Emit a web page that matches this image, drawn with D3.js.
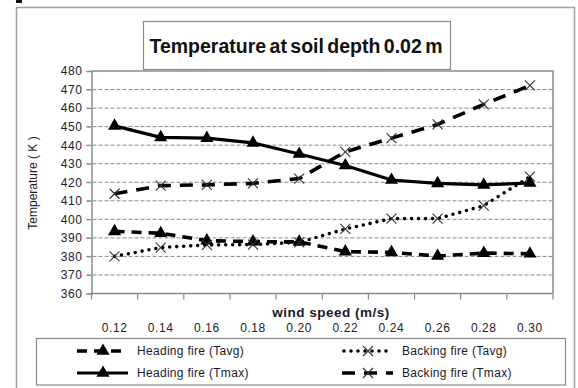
<!DOCTYPE html>
<html>
<head>
<meta charset="utf-8">
<script src="https://cdn.jsdelivr.net/npm/d3@7"></script>
<style>
  body { margin: 0; background: #fff; }
  svg { display: block; font-family: "Liberation Sans", Arial, sans-serif; }
</style>
</head>
<body>
<div class="chart"></div>
<script>
// wind speed categories (m/s)
const windSpeeds = ['0.12', '0.14', '0.16', '0.18', '0.20', '0.22', '0.24', '0.26', '0.28', '0.30'];
const yTicks = [360, 370, 380, 390, 400, 410, 420, 430, 440, 450, 460, 470, 480];

// temperatures (K)
const headingAvg = [393.5, 392.5, 388.5, 388, 387.8, 382.6, 382.2, 380.2, 381.8, 381.4];
const backingAvg = [380, 384.8, 386.2, 386.4, 387.6, 394.8, 400.4, 400.4, 407.4, 423];
const headingMax = [450.4, 444.2, 443.8, 441.2, 435.2, 429, 421.2, 419.4, 418.6, 419.6];
const backingMax = [413.8, 418.2, 418.6, 419.4, 422, 436.4, 443.8, 451.2, 462, 472.2];

const series = [
  { name: 'Heading fire (Tavg)', values: headingAvg, dash: '10,7', width: 3.6, marker: 'tri', cap: 'butt' },
  { name: 'Backing fire (Tavg)', values: backingAvg, dash: '0,7', width: 3.6, marker: 'x', cap: 'round' },
  { name: 'Heading fire (Tmax)', values: headingMax, dash: null, width: 3.2, marker: 'tri', cap: 'butt' },
  { name: 'Backing fire (Tmax)', values: backingMax, dash: '13,9', width: 3.6, marker: 'x', cap: 'butt' }
];

const W = 578, H = 388;
const margin = { top: 71, right: 25, bottom: 94.5, left: 91.5 };
const width = W - margin.left - margin.right;
const height = H - margin.top - margin.bottom;

const txt = '#22222e';

const svg = d3.select('.chart').append('svg').attr('width', W).attr('height', H);

// outer chart frame
svg.append('rect')
  .attr('x', 16.5).attr('y', 7.5).attr('width', 558).attr('height', 390)
  .attr('fill', 'none').attr('stroke', '#a0a0a0').attr('stroke-width', 1.5);
svg.append('rect').attr('x', 16).attr('y', 0).attr('width', 6).attr('height', 3).attr('fill', '#111');

// title box
svg.append('rect')
  .attr('x', 143.5).attr('y', 21.5).attr('width', 307).attr('height', 48)
  .attr('fill', '#fff').attr('stroke', '#8c8c8c').attr('stroke-width', 1.2);
svg.append('text')
  .attr('x', 296).attr('y', 46).attr('dy', '0.35em')
  .attr('text-anchor', 'middle')
  .attr('font-size', 19.5).attr('font-weight', 'bold').attr('fill', '#111')
  .attr('word-spacing', -2)
  .text('Temperature at soil depth 0.02 m');

const x = d3.scaleBand().domain(windSpeeds).range([0, width]);
const y = d3.scaleLinear().domain([360, 480]).range([height, 0]);

const g = svg.append('g').attr('transform', 'translate(' + margin.left + ',' + margin.top + ')');

// dashed grid
g.append('g')
  .selectAll('line')
  .data(yTicks.filter(d => d > 360 && d < 480))
  .enter().append('line')
  .attr('x1', -5).attr('x2', width)
  .attr('y1', d => y(d)).attr('y2', d => y(d))
  .attr('stroke', '#8a8a8a').attr('stroke-width', 1).attr('stroke-dasharray', '4,2');

// y axis
const yAxis = g.append('g')
  .call(d3.axisLeft(y).tickValues(yTicks).tickSize(5).tickPadding(4));
yAxis.select('.domain').attr('stroke', '#8a8a8a').attr('stroke-width', 1.5);
yAxis.selectAll('.tick line').attr('stroke', '#8a8a8a');
yAxis.selectAll('.tick text')
  .attr('font-size', 12).attr('letter-spacing', 0.6).attr('fill', txt)
  .attr('font-family', '"Liberation Sans", Arial, sans-serif');

// plot frame (top and right)
g.append('path')
  .attr('d', 'M0,0H' + width + 'V' + height)
  .attr('fill', 'none').attr('stroke', '#8a8a8a').attr('stroke-width', 1.5);

// x axis: ticks on category boundaries, labels further down
const xb = g.append('g').attr('transform', 'translate(0,' + height + ')');
xb.append('line').attr('x1', 0).attr('x2', width).attr('stroke', '#8a8a8a').attr('stroke-width', 1.5);
xb.selectAll('.bt')
  .data(windSpeeds.concat(['end']))
  .enter().append('line')
  .attr('x1', (d, i) => i < windSpeeds.length ? x(d) : width)
  .attr('x2', (d, i) => i < windSpeeds.length ? x(d) : width)
  .attr('y1', 0).attr('y2', 6)
  .attr('stroke', '#8a8a8a').attr('stroke-width', 1.2);
xb.selectAll('.lbl')
  .data(windSpeeds)
  .enter().append('text')
  .attr('x', d => x(d) + x.bandwidth() / 2)
  .attr('y', 34).attr('dy', '0.35em')
  .attr('text-anchor', 'middle')
  .attr('font-size', 12).attr('letter-spacing', 0.6).attr('fill', txt)
  .text(d => d);

svg.append('text')
  .attr('x', 331).attr('y', 312).attr('dy', '0.35em')
  .attr('text-anchor', 'middle')
  .attr('font-size', 13.5).attr('font-weight', 'bold').attr('letter-spacing', 0.5).attr('fill', '#1a1a2a')
  .text('wind speed (m/s)');

svg.append('text')
  .attr('transform', 'translate(33,183) rotate(-90)')
  .attr('dy', '0.35em')
  .attr('text-anchor', 'middle')
  .attr('font-size', 12).attr('fill', '#1a1a2a')
  .text('Temperature ( K )');

// marker drawers
function drawMarker(sel, type) {
  if (type === 'tri') {
    sel.append('path')
      .attr('d', d3.symbol().type(d3.symbolTriangle).size(75))
      .attr('fill', '#000');
  } else {
    sel.append('path')
      .attr('d', 'M-5,-5L5,5M-5,5L5,-5')
      .attr('fill', 'none').attr('stroke', '#333').attr('stroke-width', 1.1);
  }
}

const line = d3.line()
  .x((d, i) => x(windSpeeds[i]) + x.bandwidth() / 2)
  .y(d => y(d));

series.forEach(s => {
  g.append('path')
    .datum(s.values)
    .attr('d', line)
    .attr('fill', 'none')
    .attr('stroke', '#000')
    .attr('stroke-width', s.width)
    .attr('stroke-linecap', s.cap)
    .attr('stroke-linejoin', 'round')
    .attr('stroke-dasharray', s.dash);
  const m = g.append('g').selectAll('g')
    .data(s.values)
    .enter().append('g')
    .attr('transform', (d, i) => 'translate(' + (x(windSpeeds[i]) + x.bandwidth() / 2) + ',' + y(d) + ')');
  drawMarker(m, s.marker);
});

// legend
svg.append('rect')
  .attr('x', 36.5).attr('y', 338.5).attr('width', 529).attr('height', 46.5)
  .attr('fill', '#fff').attr('stroke', '#8a8a8a').attr('stroke-width', 1.2);

const legendPos = [
  { x: 77, y: 351 }, { x: 342, y: 351 },
  { x: 77, y: 373 }, { x: 342, y: 373 }
];

const legend = svg.append('g').selectAll('g')
  .data(series)
  .enter().append('g')
  .attr('transform', (d, i) => 'translate(' + legendPos[i].x + ',' + legendPos[i].y + ')');

legend.append('line')
  .attr('x1', d => d.cap === 'round' ? 2 : 0).attr('x2', 51)
  .attr('stroke', '#000')
  .attr('stroke-width', d => d.width)
  .attr('stroke-linecap', d => d.cap)
  .attr('stroke-dasharray', d => d.dash);

legend.each(function (d) {
  const mk = d3.select(this).append('g').attr('transform', 'translate(26,0)');
  drawMarker(mk, d.marker);
});

legend.append('text')
  .attr('x', 60).attr('dy', '0.35em')
  .attr('font-size', 12).attr('letter-spacing', 0.3).attr('fill', '#1a1a2a')
  .text(d => d.name);
</script>
</body>
</html>
